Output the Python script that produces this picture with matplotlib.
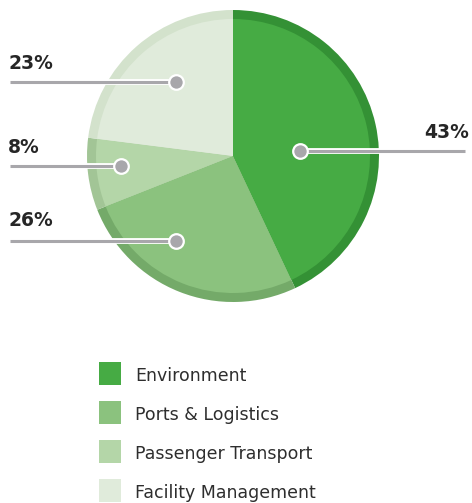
import matplotlib.pyplot as plt
import matplotlib.patheffects as pe
from matplotlib.patches import Rectangle

plt.rcParams['font.family'] = ['DejaVu Sans']

categories = ['Environment', 'Ports & Logistics', 'Passenger Transport', 'Facility Management']
shares = [43, 26, 8, 23]
labels = ['43%', '26%', '8%', '23%']
colors = ['#46ab44', '#8bc27e', '#b4d6a8', '#e0ebdb']
rim_colors = ['#349135', '#74aa69', '#a2c596', '#d3e2cc']

# layout in pixels (y measured from top)
W, H = 472, 503
cx, cy, R, rim = 233, 156, 146, 9
dots = [(300, 151), (176, 241), (121, 166), (176, 82)]
line_end = [465, 10, 10, 10]
text_pos = [(469, 132, 'right'), (8, 220, 'left'), (8, 147, 'left'), (8, 63, 'left')]

fig = plt.figure(figsize=(W / 100, H / 100), dpi=100)
ax = fig.add_axes([0, 0, 1, 1])
ax.set_xlim(0, W)
ax.set_ylim(0, H)
ax.set_aspect('equal')
ax.axis('off')

ax.pie(shares, colors=rim_colors, radius=R, center=(cx, H - cy),
       startangle=90, counterclock=False, wedgeprops=dict(linewidth=0))
ax.pie(shares, colors=colors, radius=R - rim, center=(cx, H - cy),
       startangle=90, counterclock=False, wedgeprops=dict(linewidth=0))
ax.set_xlim(0, W)
ax.set_ylim(0, H)

grey = '#a8a7ab'
for (dx, dy), xe, (tx, ty, ha), lab in zip(dots, line_end, text_pos, labels):
    ax.plot([xe, dx], [H - dy, H - dy], color=grey, lw=2.2, solid_capstyle='butt',
            path_effects=[pe.Stroke(linewidth=4.2, foreground='white'), pe.Normal()], zorder=5)
    ax.plot([dx], [H - dy], 'o', ms=10.5, color=grey, mec='white', mew=1.6, zorder=6)
    ax.text(tx, H - ty, lab, ha=ha, va='center', fontsize=13.5, fontweight='bold',
            color='#262626')

# legend
for i, (name, col) in enumerate(zip(categories, colors)):
    y = 373.5 + i * 39
    ax.add_patch(Rectangle((99, H - y - 11.5), 22, 23, color=col, lw=0))
    ax.text(135, H - y - 2.5, name, ha='left', va='center', fontsize=12.5, color='#2e2e2e')

fig.savefig('out.png', dpi=100)
